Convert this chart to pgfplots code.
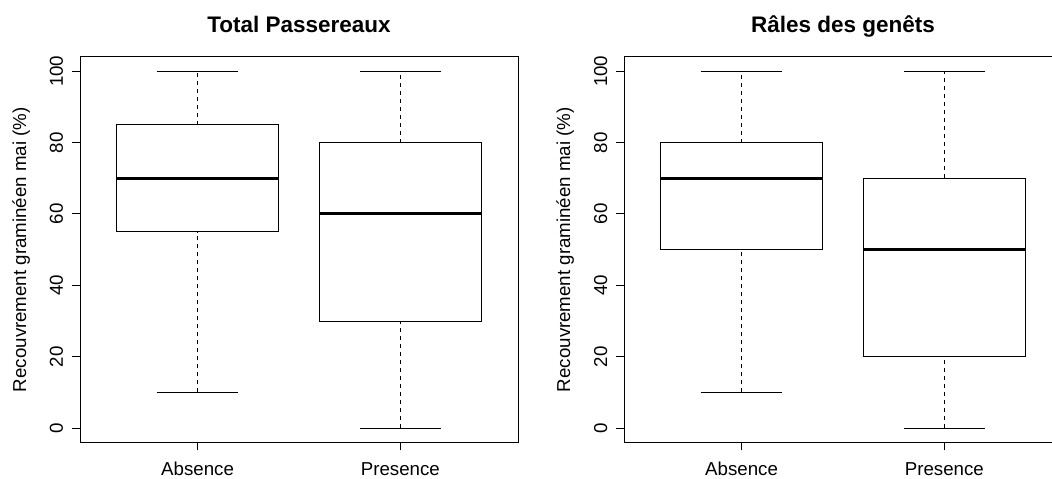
\documentclass[border=0pt]{standalone}
\usepackage{fontspec}
\setmainfont{Liberation Sans}
\setsansfont{Liberation Sans}
\usepackage{pgfplots}
\pgfplotsset{compat=1.18}

\pgfplotsset{
  rbox/.style={
    scale only axis, width=438bp, height=385.3bp,
    xmin=0.42, xmax=2.58, ymin=-4, ymax=104,
    xtick={1,2}, xticklabels={Absence,Presence},
    ytick={0,20,40,60,80,100},
    tick pos=left, tick align=outside, major tick length=8bp,
    tick style={black, line width=1bp},
    axis line style={black, line width=1bp},
    /pgf/number format/assume math mode=true,
    ticklabel style={font=\fontsize{18.7bp}{22bp}\selectfont, inner sep=0pt},
    yticklabel style={rotate=90, anchor=base, yshift=9bp},
    xticklabel style={anchor=base, yshift=-25bp},
    ylabel={Recouvrement graminéen mai (\%)},
    ylabel style={at={(axis description cs:0,0.5)}, anchor=base, inner sep=0pt,
      yshift=54bp, font=\fontsize{18.7bp}{22bp}\selectfont},
    every axis title shift=0pt,
    title style={at={(axis description cs:0.5,1)}, anchor=base, inner sep=0pt,
      yshift=24.7bp, font=\bfseries\fontsize{22.5bp}{26bp}\selectfont},
  },
  bx/.style={black, line width=1bp, mark=none},
  md/.style={black, line width=3bp, mark=none},
  wh/.style={black, line width=1bp, mark=none, dash pattern=on 4bp off 4bp},
}

\begin{document}
\begin{tikzpicture}
\useasboundingbox (0,0) rectangle (1052bp,479bp);
\clip (0,0) rectangle (1052bp,479bp);
\begin{axis}[rbox, at={(80bp,36.7bp)}, anchor=south west, title={Total Passereaux}]
% Absence: 10 / 55 / 70 / 85 / 100
\addplot[wh] coordinates {(1,85) (1,100)};
\addplot[wh] coordinates {(1,10) (1,55)};
\addplot[bx] coordinates {(0.8,100) (1.2,100)};
\addplot[bx] coordinates {(0.8,10) (1.2,10)};
\addplot[bx] coordinates {(0.6,55) (1.4,55) (1.4,85) (0.6,85)} -- cycle;
\addplot[md] coordinates {(0.6,70) (1.4,70)};
% Presence: 0 / 30 / 60 / 80 / 100
\addplot[wh] coordinates {(2,80) (2,100)};
\addplot[wh] coordinates {(2,0) (2,30)};
\addplot[bx] coordinates {(1.8,100) (2.2,100)};
\addplot[bx] coordinates {(1.8,0) (2.2,0)};
\addplot[bx] coordinates {(1.6,30) (2.4,30) (2.4,80) (1.6,80)} -- cycle;
\addplot[md] coordinates {(1.6,60) (2.4,60)};
\end{axis}
\begin{axis}[rbox, at={(624bp,36.7bp)}, anchor=south west, title={Râles des genêts}]
% Absence: 10 / 50 / 70 / 80 / 100
\addplot[wh] coordinates {(1,80) (1,100)};
\addplot[wh] coordinates {(1,10) (1,50)};
\addplot[bx] coordinates {(0.8,100) (1.2,100)};
\addplot[bx] coordinates {(0.8,10) (1.2,10)};
\addplot[bx] coordinates {(0.6,50) (1.4,50) (1.4,80) (0.6,80)} -- cycle;
\addplot[md] coordinates {(0.6,70) (1.4,70)};
% Presence: 0 / 20 / 50 / 70 / 100
\addplot[wh] coordinates {(2,70) (2,100)};
\addplot[wh] coordinates {(2,0) (2,20)};
\addplot[bx] coordinates {(1.8,100) (2.2,100)};
\addplot[bx] coordinates {(1.8,0) (2.2,0)};
\addplot[bx] coordinates {(1.6,20) (2.4,20) (2.4,70) (1.6,70)} -- cycle;
\addplot[md] coordinates {(1.6,50) (2.4,50)};
\end{axis}
\end{tikzpicture}
\end{document}
